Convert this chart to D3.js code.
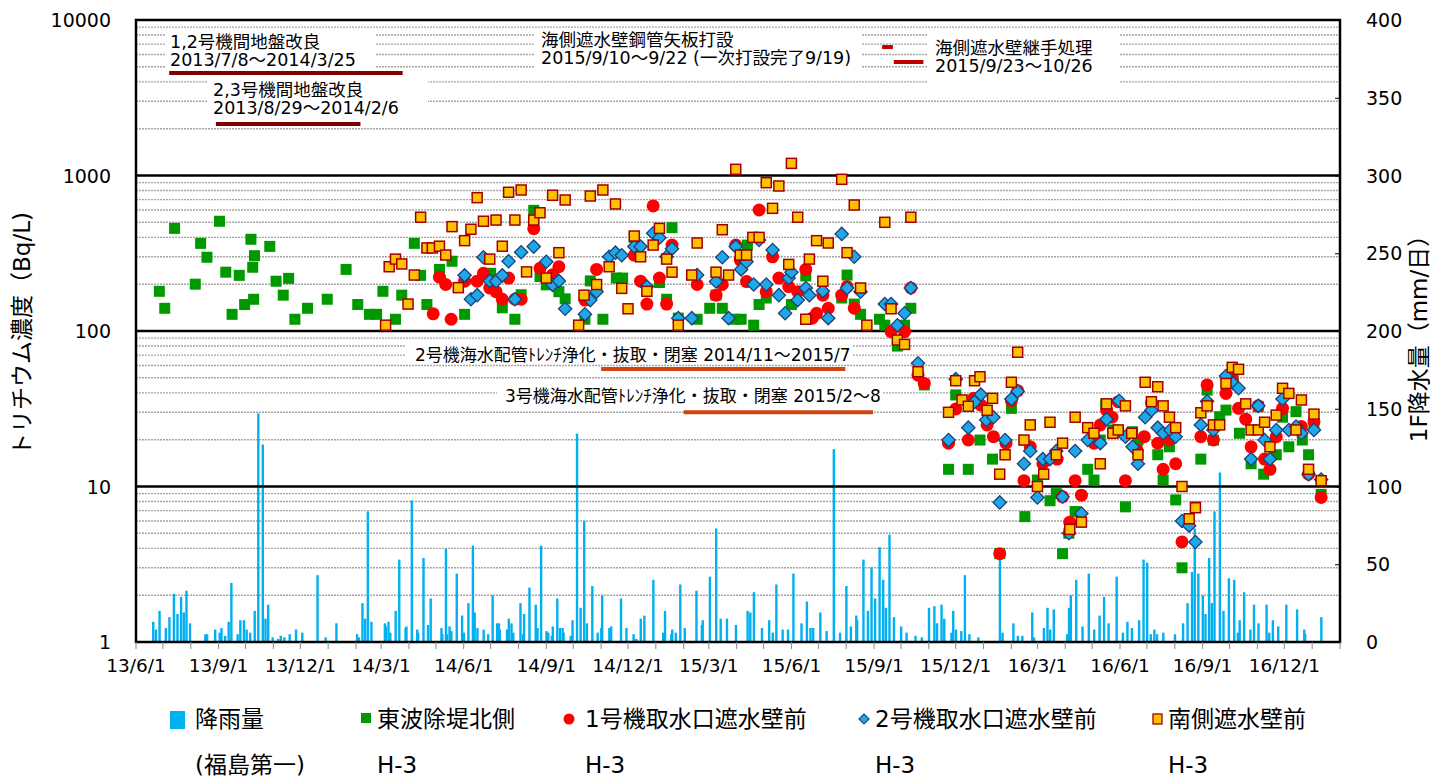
<!DOCTYPE html>
<html>
<head>
<meta charset="utf-8" />
<style>
body {
	margin: 0;
	background: #fff;
}
svg {
	display: block;
}
.tick-label {
	font-family: Verdana, "DejaVu Sans", sans-serif;
	font-size: 19px;
	fill: #000;
}
.jp {
	font-family: Verdana, "DejaVu Sans", "Noto Sans CJK JP", sans-serif;
	fill: #000;
}
</style>
</head>
<body>
<script src="https://cdn.jsdelivr.net/npm/d3@7"></script>
<script>
// ---- data ----
var xDomain = ["2013-06-01", "2017-02-01"];
var xTickLabels = ["13/6/1", "13/9/1", "13/12/1", "14/3/1", "14/6/1", "14/9/1", "14/12/1",
    "15/3/1", "15/6/1", "15/9/1", "15/12/1", "16/3/1", "16/6/1", "16/9/1", "16/12/1"];
var leftTicks = [1, 10, 100, 1000, 10000];
var rightTicks = [0, 50, 100, 150, 200, 250, 300, 350, 400];

// 1F daily rainfall (mm/day)
var rainData = [["2013-06-20",13],["2013-06-23",8],["2013-06-27",20],["2013-07-04",9],["2013-07-08",16],
  ["2013-07-13",31],["2013-07-17",18],["2013-07-21",29],["2013-07-24",19],["2013-07-27",33],["2013-07-31",12],
  ["2013-08-17",5],["2013-08-19",5],["2013-08-28",8],["2013-09-02",6],["2013-09-04",9],["2013-09-08",4],
  ["2013-09-12",13],["2013-09-15",38],["2013-09-22",5],["2013-09-25",14],["2013-09-29",14],["2013-10-02",8],
  ["2013-10-06",6],["2013-10-11",20],["2013-10-15",147],["2013-10-20",127],["2013-10-23",15],["2013-10-26",24],
  ["2013-10-31",3],["2013-11-06",2],["2013-11-09",4],["2013-11-13",3],["2013-11-19",5],["2013-11-26",8],
  ["2013-12-03",6],["2013-12-20",43],["2013-12-29",3],["2014-01-10",12],["2014-02-02",5],["2014-02-04",3],
  ["2014-02-08",25],["2014-02-11",15],["2014-02-14",84],["2014-02-18",13],["2014-03-05",12],["2014-03-06",10],
  ["2014-03-09",13],["2014-03-11",6],["2014-03-17",20],["2014-03-21",53],["2014-03-28",9],["2014-03-29",10],
  ["2014-04-04",91],["2014-04-10",8],["2014-04-11",6],["2014-04-17",54],["2014-04-22",11],["2014-04-25",28],
  ["2014-05-07",9],["2014-05-08",5],["2014-05-12",60],["2014-05-13",5],["2014-05-16",10],["2014-05-18",7],
  ["2014-05-24",44],["2014-05-30",17],["2014-06-01",6],["2014-06-06",25],["2014-06-11",62],["2014-06-13",19],
  ["2014-06-16",9],["2014-06-23",8],["2014-06-28",5],["2014-07-03",30],["2014-07-08",12],["2014-07-10",12],
  ["2014-07-11",8],["2014-07-19",8],["2014-07-21",15],["2014-07-24",12],["2014-07-26",6],["2014-08-03",25],
  ["2014-08-06",5],["2014-08-07",18],["2014-08-13",35],["2014-08-20",24],["2014-08-22",9],["2014-08-26",62],
  ["2014-09-01",7],["2014-09-03",6],["2014-09-07",4],["2014-09-08",10],["2014-09-13",28],["2014-09-16",9],
  ["2014-09-19",9],["2014-09-20",6],["2014-09-28",4],["2014-09-30",14],["2014-10-05",134],["2014-10-09",22],
  ["2014-10-13",78],["2014-10-16",12],["2014-10-22",36],["2014-10-28",6],["2014-11-01",9],["2014-11-02",30],
  ["2014-11-10",9],["2014-11-12",10],["2014-11-23",28],["2014-11-29",9],["2014-12-07",5],["2014-12-10",2],
  ["2014-12-15",15],["2014-12-19",17],["2014-12-29",40],["2015-01-09",6],["2015-01-11",20],["2015-01-18",5],
  ["2015-01-19",8],["2015-01-23",6],["2015-01-28",37],["2015-02-02",9],["2015-02-15",33],["2015-02-21",11],
  ["2015-02-22",14],["2015-03-02",42],["2015-03-09",73],["2015-03-14",15],["2015-03-21",15],["2015-03-31",11],
  ["2015-04-13",20],["2015-04-16",19],["2015-04-20",32],["2015-04-29",9],["2015-05-07",14],["2015-05-11",6],
  ["2015-05-15",37],["2015-05-22",8],["2015-05-28",8],["2015-06-03",44],["2015-06-12",12],["2015-06-18",26],
  ["2015-06-22",9],["2015-06-25",9],["2015-07-03",19],["2015-07-10",7],["2015-07-18",124],["2015-07-25",6],
  ["2015-08-01",36],["2015-08-06",10],["2015-08-12",17],["2015-08-13",14],["2015-08-20",53],["2015-08-25",20],
  ["2015-08-29",48],["2015-09-02",28],["2015-09-07",61],["2015-09-11",40],["2015-09-14",22],["2015-09-18",69],
  ["2015-09-23",16],["2015-10-01",10],["2015-10-07",6],["2015-10-17",4],["2015-10-24",3],["2015-11-01",22],
  ["2015-11-07",23],["2015-11-10",12],["2015-11-15",24],["2015-11-18",15],["2015-11-26",6],["2015-11-28",20],
  ["2015-12-01",8],["2015-12-07",7],["2015-12-11",43],["2015-12-16",5],["2015-12-26",3],["2016-01-19",57],
  ["2016-01-22",6],["2016-02-03",12],["2016-02-08",4],["2016-02-13",4],["2016-02-24",19],["2016-02-26",3],
  ["2016-03-08",9],["2016-03-12",22],["2016-03-15",8],["2016-03-19",21],["2016-04-03",5],["2016-04-05",22],
  ["2016-04-07",30],["2016-04-13",40],["2016-04-20",10],["2016-04-27",44],["2016-05-03",8],["2016-05-09",17],
  ["2016-05-14",29],["2016-05-19",12],["2016-05-28",42],["2016-06-04",6],["2016-06-09",13],["2016-06-14",9],
  ["2016-06-22",14],["2016-06-27",53],["2016-07-01",51],["2016-07-05",5],["2016-07-09",8],["2016-07-12",5],
  ["2016-07-19",6],["2016-08-01",5],["2016-08-10",12],["2016-08-15",25],["2016-08-20",45],["2016-08-23",73],
  ["2016-08-27",44],["2016-09-01",30],["2016-09-04",18],["2016-09-08",54],["2016-09-11",25],["2016-09-14",84],
  ["2016-09-20",109],["2016-09-24",20],["2016-09-30",41],["2016-10-06",40],["2016-10-10",6],["2016-10-12",14],
  ["2016-10-17",32],["2016-10-24",8],["2016-10-28",24],["2016-11-02",12],["2016-11-11",24],["2016-11-14",6],
  ["2016-11-18",14],["2016-11-24",10],["2016-12-03",24],["2016-12-15",21],["2016-12-23",8],["2016-12-24",5],
  ["2017-01-11",16]];

// 東波除堤北側 H-3 (Bq/L)
var eastData = [["2013-06-27",180],["2013-07-03",140],["2013-07-14",457],["2013-08-06",200],["2013-08-12",366],
  ["2013-08-19",298],["2013-09-02",508],["2013-09-09",239],["2013-09-16",128],["2013-09-24",228],["2013-09-30",148],
  ["2013-10-07",389],["2013-10-09",257],["2013-10-10",160],["2013-10-11",305],["2013-10-28",350],["2013-11-04",209],
  ["2013-11-12",170],["2013-11-18",218],["2013-11-25",119],["2013-12-09",140],["2013-12-31",160],["2014-01-21",249],
  ["2014-02-03",148],["2014-02-16",128],["2014-02-24",128],["2014-03-03",180],["2014-03-17",119],["2014-03-24",170],
  ["2014-04-07",366],["2014-04-14",228],["2014-04-21",148],["2014-05-05",249],["2014-05-19",281],["2014-06-02",128],
  ["2014-07-01",235],["2014-07-14",141],["2014-07-28",119],["2014-08-04",171],["2014-08-18",597],["2014-08-25",224],
  ["2014-09-01",198],["2014-09-15",179],["2014-09-22",161],["2014-10-14",119],["2014-10-20",210],["2014-11-03",119],
  ["2014-11-18",219],["2014-11-25",219],["2014-12-08",400],["2015-01-05",205],["2015-01-13",160],["2015-01-19",462],
  ["2015-01-26",121],["2015-02-16",119],["2015-03-02",140],["2015-03-09",170],["2015-03-16",140],["2015-03-30",119],
  ["2015-04-06",119],["2015-04-13",357],["2015-04-20",109],["2015-04-26",148],["2015-05-04",163],["2015-06-01",148],
  ["2015-06-17",226],["2015-07-27",163],["2015-08-02",229],["2015-08-10",149],["2015-08-17",128],["2015-09-07",119],
  ["2015-09-13",109],["2015-09-27",80],["2015-10-05",109],["2015-10-12",140],["2015-10-27",45],["2015-11-23",12.9],
  ["2015-12-01",38.8],["2015-12-15",12.9],["2015-12-28",19.9],["2016-01-11",15],["2016-01-19",3.7],["2016-02-01",31.8],
  ["2016-02-16",6.4],["2016-03-01",11],["2016-03-15",8.1],["2016-03-22",9],["2016-03-29",3.7],["2016-04-05",5],
  ["2016-04-12",6.9],["2016-04-26",12.9],["2016-05-03",11],["2016-05-10",19.9],["2016-05-16",34],["2016-05-24",23.1],
  ["2016-06-07",7.4],["2016-06-15",22.5],["2016-06-21",19.9],["2016-07-13",16],["2016-07-19",11],["2016-07-26",18],
  ["2016-08-02",8.2],["2016-08-09",3],["2016-08-24",7.4],["2016-08-30",15],["2016-09-06",41.7],["2016-09-13",19.9],
  ["2016-09-20",28.1],["2016-09-27",31],["2016-10-05",49.6],["2016-10-12",22],["2016-10-25",14],["2016-11-02",32.6],
  ["2016-11-08",12],["2016-11-22",16],["2016-11-29",27.9],["2016-12-06",18],["2016-12-14",30.3],["2016-12-21",19.9],
  ["2016-12-28",16],["2017-01-03",24.9],["2017-01-11",8.9]];

// 1号機取水口遮水壁前 H-3 (Bq/L)
var unit1Data = [["2014-04-28",129],["2014-05-05",222],["2014-05-12",199],["2014-05-18",119],["2014-06-02",209],
  ["2014-06-16",209],["2014-06-23",235],["2014-06-30",189],["2014-07-07",179],["2014-07-14",160],["2014-07-21",219],
  ["2014-07-28",160],["2014-08-04",160],["2014-08-18",455],["2014-08-25",253],["2014-09-08",230],["2014-09-15",259],
  ["2014-10-14",158],["2014-10-27",249],["2014-12-08",307],["2014-12-15",209],["2014-12-22",149],["2014-12-29",637],
  ["2015-01-05",219],["2015-01-13",149],["2015-01-19",357],["2015-02-16",199],["2015-03-09",170],["2015-03-16",199],
  ["2015-03-31",357],["2015-04-05",286],["2015-04-12",208],["2015-04-26",600],["2015-05-04",179],["2015-05-11",300],
  ["2015-05-18",219],["2015-05-29",193],["2015-06-08",179],["2015-06-17",249],["2015-06-24",121],["2015-06-29",130],
  ["2015-07-06",170],["2015-07-12",140],["2015-07-27",170],["2015-08-02",193],["2015-08-10",140],["2015-09-20",99],
  ["2015-10-05",99],["2015-10-12",189],["2015-10-20",52],["2015-10-27",46],["2015-11-23",19],["2015-12-01",31.5],
  ["2015-12-15",19.9],["2015-12-21",36.9],["2015-12-29",33.4],["2016-01-05",24.9],["2016-01-12",20.9],["2016-01-19",3.7],
  ["2016-01-26",19],["2016-02-01",35.6],["2016-02-08",41.3],["2016-02-15",10.9],["2016-02-22",18],["2016-03-07",14],
  ["2016-03-23",15],["2016-03-29",8.6],["2016-04-06",5.9],["2016-04-12",10.9],["2016-04-19",8.8],["2016-05-03",19],
  ["2016-05-10",24.9],["2016-05-17",31],["2016-05-23",27.9],["2016-05-30",35.1],["2016-06-07",10.9],["2016-06-20",17.2],
  ["2016-06-28",20.9],["2016-07-06",34.6],["2016-07-13",19],["2016-07-19",12.9],["2016-07-26",19.9],["2016-08-02",14],
  ["2016-08-09",4.4],["2016-08-30",20.9],["2016-09-06",45],["2016-09-13",19.9],["2016-09-27",39.7],["2016-10-04",48.4],
  ["2016-10-11",31.8],["2016-10-19",27.1],["2016-10-25",18],["2016-11-02",33],["2016-11-09",15],["2016-11-15",12.9],
  ["2016-11-22",20.9],["2016-11-29",31.8],["2016-12-20",24.3],["2016-12-28",12],["2017-01-03",26.1],["2017-01-11",8.5]];

// 2号機取水口遮水壁前 H-3 (Bq/L)
var unit2Data = [["2014-06-02",228],["2014-06-09",160],["2014-06-16",170],["2014-06-23",298],["2014-06-30",210],
  ["2014-07-07",209],["2014-07-14",228],["2014-07-21",281],["2014-07-28",160],["2014-08-04",321],["2014-08-18",349],
  ["2014-09-01",279],["2014-09-08",198],["2014-09-15",210],["2014-09-22",139],["2014-10-14",128],["2014-10-20",158],
  ["2014-10-27",179],["2014-11-10",300],["2014-11-17",319],["2014-11-24",307],["2014-12-08",349],["2014-12-15",349],
  ["2014-12-22",193],["2014-12-29",425],["2015-01-05",398],["2015-01-13",300],["2015-01-19",338],["2015-01-26",121],
  ["2015-02-10",121],["2015-02-16",229],["2015-03-09",208],["2015-03-16",298],["2015-03-23",121],["2015-03-31",349],
  ["2015-04-06",249],["2015-04-12",279],["2015-04-20",199],["2015-04-26",385],["2015-05-04",199],["2015-05-11",332],
  ["2015-05-18",170],["2015-05-25",130],["2015-05-29",219],["2015-06-01",239],["2015-06-08",158],["2015-06-17",189],
  ["2015-06-21",170],["2015-07-06",181],["2015-07-12",121],["2015-07-27",421],["2015-08-02",189],["2015-08-10",300],
  ["2015-08-17",179],["2015-09-13",149],["2015-09-20",149],["2015-09-27",109],["2015-10-05",130],["2015-10-12",189],
  ["2015-10-20",62],["2015-11-23",19.9],["2015-12-01",49],["2015-12-15",23.9],["2015-12-22",35],["2015-12-29",39],
  ["2016-01-04",26.8],["2016-01-12",27.9],["2016-01-19",7.9],["2016-01-25",19.9],["2016-02-01",36.5],["2016-02-08",41],
  ["2016-02-15",14],["2016-02-22",16.9],["2016-03-01",8.5],["2016-03-07",15],["2016-03-15",15],["2016-03-22",16.9],
  ["2016-03-29",8.6],["2016-04-05",5],["2016-04-12",16.9],["2016-04-19",6.7],["2016-04-26",19.9],["2016-05-10",19],
  ["2016-05-17",27.1],["2016-05-31",35.6],["2016-06-07",20.9],["2016-06-15",18],["2016-06-21",14],["2016-06-29",27.9],
  ["2016-07-06",30.9],["2016-07-13",23.9],["2016-07-19",22],["2016-07-27",23.1],["2016-08-02",20.9],["2016-08-09",6],
  ["2016-08-17",5.6],["2016-08-24",4.4],["2016-08-30",24.9],["2016-09-06",35.3],["2016-09-13",23.1],["2016-09-27",51.4],
  ["2016-10-05",46.1],["2016-10-11",42.8],["2016-10-25",15],["2016-11-02",33],["2016-11-09",19.9],["2016-11-15",15],
  ["2016-11-22",23.1],["2016-11-29",36.5],["2016-12-06",23.1],["2016-12-14",24.3],["2016-12-20",22],["2016-12-28",12],
  ["2017-01-03",23.1],["2017-01-11",11.1]];

// 南側遮水壁前 H-3 (Bq/L)
var southData = [["2014-03-06",109],["2014-03-10",259],["2014-03-17",290],["2014-03-24",270],["2014-03-31",149],
  ["2014-04-07",229],["2014-04-14",539],["2014-04-21",342],["2014-04-27",342],["2014-05-05",351],["2014-05-12",308],
  ["2014-05-19",469],["2014-05-26",190],["2014-06-02",381],["2014-06-09",451],["2014-06-16",720],["2014-06-23",508],
  ["2014-06-30",290],["2014-07-07",517],["2014-07-14",351],["2014-07-21",780],["2014-07-28",517],["2014-08-04",807],
  ["2014-08-10",240],["2014-08-18",517],["2014-08-25",576],["2014-09-01",219],["2014-09-08",746],["2014-09-15",319],
  ["2014-09-22",696],["2014-10-07",109],["2014-10-13",170],["2014-10-20",738],["2014-10-27",199],["2014-11-03",807],
  ["2014-11-10",259],["2014-11-17",656],["2014-11-24",188],["2014-12-01",139],["2014-12-08",408],["2014-12-15",300],
  ["2014-12-22",180],["2014-12-29",357],["2015-01-05",457],["2015-01-13",290],["2015-01-19",239],["2015-01-26",109],
  ["2015-02-10",229],["2015-02-16",368],["2015-03-09",239],["2015-03-16",448],["2015-03-23",229],["2015-03-31",1096],
  ["2015-04-05",308],["2015-04-12",308],["2015-04-19",400],["2015-04-26",400],["2015-05-04",899],["2015-05-11",615],
  ["2015-05-18",856],["2015-05-29",268],["2015-06-01",1197],["2015-06-08",539],["2015-06-17",119],["2015-06-21",290],
  ["2015-06-29",381],["2015-07-06",209],["2015-07-12",368],["2015-07-27",945],["2015-08-02",319],["2015-08-10",646],
  ["2015-08-17",189],["2015-08-24",109],["2015-09-13",500],["2015-09-20",139],["2015-09-27",87.5],["2015-10-05",82],
  ["2015-10-12",539],["2015-10-20",54.7],["2015-11-23",30],["2015-12-01",47.9],["2015-12-08",36],["2015-12-15",32.8],
  ["2015-12-22",47.9],["2015-12-28",50.8],["2016-01-05",30.9],["2016-01-11",36.9],["2016-01-19",12],["2016-01-25",16],
  ["2016-02-01",46.8],["2016-02-08",73],["2016-02-15",19.9],["2016-02-22",24.9],["2016-03-01",10],["2016-03-08",12],
  ["2016-03-15",25.9],["2016-03-22",16],["2016-03-29",19],["2016-04-06",5.3],["2016-04-12",27.9],["2016-04-19",5.9],
  ["2016-04-26",23.9],["2016-05-03",22],["2016-05-10",14],["2016-05-17",34],["2016-05-24",22],["2016-05-30",23.1],
  ["2016-06-07",33],["2016-06-14",22],["2016-06-21",16],["2016-06-29",46.8],["2016-07-06",35.1],["2016-07-13",43.8],
  ["2016-07-19",33],["2016-07-26",27.9],["2016-08-02",23.9],["2016-08-09",10],["2016-08-17",6.2],["2016-08-24",7.3],
  ["2016-08-30",29.8],["2016-09-06",33],["2016-09-13",24.9],["2016-09-20",24.9],["2016-09-27",46],["2016-10-04",58.4],
  ["2016-10-11",56.7],["2016-10-19",34],["2016-10-25",23.1],["2016-11-02",23.1],["2016-11-09",25.9],["2016-11-15",18],
  ["2016-11-22",28.8],["2016-11-29",42.8],["2016-12-06",39.7],["2016-12-14",23.1],["2016-12-20",36],["2016-12-28",12.9],
  ["2017-01-03",29.2],["2017-01-11",10.9]];

// work periods drawn as bars, with their labels
var workLabels = [["1,2号機間地盤改良", "2013/7/8～2014/3/25"],
    ["2,3号機間地盤改良", "2013/8/29～2014/2/6"],
    ["海側遮水壁鋼管矢板打設", "2015/9/10～9/22 (一次打設完了9/19)"],
    ["海側遮水壁継手処理", "2015/9/23～10/26"],
    ["2号機海水配管ﾄﾚﾝﾁ浄化・抜取・閉塞 2014/11～2015/7"],
    ["3号機海水配管ﾄﾚﾝﾁ浄化・抜取・閉塞 2015/2～8"]];
var workFrom = ["2013-07-08", "2013-08-29", "2015-09-10", "2015-09-23", "2014-11-01", "2015-02-01"];
var workTo = ["2014-03-25", "2014-02-06", "2015-09-22", "2015-10-26", "2015-07-31", "2015-08-31"];

var legendNames = ["降雨量", "東波除堤北側", "1号機取水口遮水壁前", "2号機取水口遮水壁前", "南側遮水壁前"];
var legendSub = ["(福島第一)", "H-3", "H-3", "H-3", "H-3"];

// ---- layout ----
var width = 1434, height = 779;
var pL = 136, pR = 1340, pT = 20, pB = 642;
var parseDate = d3.timeParse("%Y-%m-%d");
var parseTick = d3.timeParse("%y/%m/%d");

var x = d3.scaleTime()
	.domain(xDomain.map(parseDate))
	.range([pL, pR]);
var yL = d3.scaleLog()
	.domain([1, 10000])
	.range([pB, pT]);
var yR = d3.scaleLinear()
	.domain([0, 400])
	.range([pB, pT]);

var svg = d3.select("body").append("svg")
	.attr("width", width)
	.attr("height", height);

svg.append("rect")
	.attr("width", width)
	.attr("height", height)
	.attr("fill", "#fff");

// minor log gridlines
var minorVals = [];
[1, 10, 100, 1000].forEach(function(d) {
	for (var k = 2; k < 10; k++) minorVals.push(k * d);
});
svg.append("g").selectAll("line")
	.data(minorVals)
	.enter().append("line")
	.attr("x1", pL)
	.attr("x2", pR)
	.attr("y1", function(d) { return yL(d); })
	.attr("y2", function(d) { return yL(d); })
	.attr("stroke", "#a6a6a6")
	.attr("stroke-width", 1.4)
	.attr("stroke-dasharray", "2,1");

// white boxes behind the notes (break the gridlines like the original)
var noteBoxes = [[165, 30, 210, 40], [208, 78, 220, 38], [535, 30, 327, 42], [928, 32, 192, 56],
    [406, 343, 446, 21], [497, 384, 385, 21]];
svg.append("g").selectAll("rect")
	.data(noteBoxes)
	.enter().append("rect")
	.attr("x", function(d) { return d[0]; })
	.attr("y", function(d) { return d[1]; })
	.attr("width", function(d) { return d[2]; })
	.attr("height", function(d) { return d[3]; })
	.attr("fill", "#fff");

// rain bars (right axis)
svg.append("g").selectAll("rect")
	.data(rainData)
	.enter().append("rect")
	.attr("x", function(d) { return x(parseDate(d[0])) - 1; })
	.attr("y", function(d) { return yR(d[1]); })
	.attr("width", 2.4)
	.attr("height", function(d) { return pB - yR(d[1]); })
	.attr("fill", "#00b0f0");

// major gridlines
svg.append("g").selectAll("line")
	.data([10, 100, 1000])
	.enter().append("line")
	.attr("x1", pL)
	.attr("x2", pR)
	.attr("y1", function(d) { return yL(d); })
	.attr("y2", function(d) { return yL(d); })
	.attr("stroke", "#000")
	.attr("stroke-width", 2.5);

// frame
svg.append("rect")
	.attr("x", pL)
	.attr("y", pT)
	.attr("width", pR - pL)
	.attr("height", pB - pT)
	.attr("fill", "none")
	.attr("stroke", "#000")
	.attr("stroke-width", 2.5);

// work period bars
var workLevel = [4560, 2140, 6700, 5370, 57, 30];
var workColor = ["#800000", "#800000", "#c00000", "#c00000", "#d04414", "#d04414"];
svg.append("g").selectAll("line")
	.data(workFrom)
	.enter().append("line")
	.attr("x1", function(d) { return x(parseDate(d)); })
	.attr("x2", function(d, i) { return x(parseDate(workTo[i])); })
	.attr("y1", function(d, i) { return yL(workLevel[i]); })
	.attr("y2", function(d, i) { return yL(workLevel[i]); })
	.attr("stroke", function(d, i) { return workColor[i]; })
	.attr("stroke-width", 4);

// work labels
var notePos = [[170, 48], [213, 96], [541, 46], [935, 54], [415, 361], [505, 402]];
var noteSize = [17.5, 17.5, 17.5, 17.5, 17, 17];
var noteGroup = svg.append("g").attr("class", "jp");
workLabels.forEach(function(lines, i) {
	lines.forEach(function(t, j) {
		noteGroup.append("text")
			.attr("x", notePos[i][0])
			.attr("y", notePos[i][1] + j * 18)
			.style("font-size", noteSize[i] + "px")
			.text(t);
	});
});

// scatter series
var sq = 11;
svg.append("g").selectAll("rect")
	.data(eastData)
	.enter().append("rect")
	.attr("x", function(d) { return x(parseDate(d[0])) - sq / 2; })
	.attr("y", function(d) { return yL(d[1]) - sq / 2; })
	.attr("width", sq)
	.attr("height", sq)
	.attr("fill", "#009900");

svg.append("g").selectAll("circle")
	.data(unit1Data)
	.enter().append("circle")
	.attr("cx", function(d) { return x(parseDate(d[0])); })
	.attr("cy", function(d) { return yL(d[1]); })
	.attr("r", 6.5)
	.attr("fill", "#ff0000");

var diamond = d3.symbol().type(d3.symbolSquare).size(88);
svg.append("g").selectAll("path")
	.data(unit2Data)
	.enter().append("path")
	.attr("d", diamond)
	.attr("transform", function(d) {
		return "translate(" + x(parseDate(d[0])) + "," + yL(d[1]) + ") rotate(45)";
	})
	.attr("fill", "#1fa8e6")
	.attr("stroke", "#1f3f7a")
	.attr("stroke-width", 1.3);

svg.append("g").selectAll("rect")
	.data(southData)
	.enter().append("rect")
	.attr("x", function(d) { return x(parseDate(d[0])) - 5; })
	.attr("y", function(d) { return yL(d[1]) - 5; })
	.attr("width", 10)
	.attr("height", 10)
	.attr("fill", "#ffc000")
	.attr("stroke", "#a00000")
	.attr("stroke-width", 1.5);

// x axis: monthly ticks, labels every 3 months
var months = d3.timeMonth.range(x.domain()[0], d3.timeDay.offset(x.domain()[1], 1));
svg.append("g").selectAll("line")
	.data(months)
	.enter().append("line")
	.attr("x1", function(d) { return x(d); })
	.attr("x2", function(d) { return x(d); })
	.attr("y1", pB)
	.attr("y2", pB + 7)
	.attr("stroke", "#888")
	.attr("stroke-width", 1);

svg.append("g").selectAll("text")
	.data(xTickLabels)
	.enter().append("text")
	.attr("class", "tick-label")
	.style("font-size", "18.5px")
	.attr("x", function(d) { return x(parseTick(d)); })
	.attr("y", 672)
	.attr("text-anchor", "middle")
	.text(function(d) { return d; });

// left axis
var axisL = svg.append("g")
	.attr("transform", "translate(" + pL + ",0)")
	.call(d3.axisLeft(yL).tickValues(leftTicks).tickFormat(d3.format("d")).tickSize(0).tickPadding(25));
axisL.select(".domain").remove();
axisL.selectAll("text").attr("class", "tick-label").attr("dy", "0.35em");

// right axis
var axisR = svg.append("g")
	.attr("transform", "translate(" + pR + ",0)")
	.call(d3.axisRight(yR).tickValues(rightTicks).tickSize(-5).tickPadding(26));
axisR.select(".domain").remove();
axisR.selectAll("line").attr("stroke", "#000");
axisR.selectAll("text").attr("class", "tick-label").attr("dy", "0.35em");

// axis titles
svg.append("text")
	.attr("class", "jp")
	.attr("transform", "translate(30,334) rotate(-90)")
	.attr("text-anchor", "middle")
	.style("font-size", "23px")
	.text("トリチウム濃度（Bq/L)");
svg.append("text")
	.attr("class", "jp")
	.attr("transform", "translate(1427,333) rotate(-90)")
	.attr("text-anchor", "middle")
	.style("font-size", "23px")
	.text("1F降水量（mm/日）");

// legend
var legX = [195, 377, 585, 875, 1168];
var legend = svg.append("g").attr("class", "jp").style("font-size", "23px");
legendNames.forEach(function(t, i) {
	legend.append("text").attr("x", legX[i]).attr("y", 727).text(t);
	legend.append("text").attr("x", legX[i]).attr("y", 773).text(legendSub[i]);
});
legend.append("rect").attr("x", 170).attr("y", 711).attr("width", 15).attr("height", 18).attr("fill", "#00b0f0");
legend.append("rect").attr("x", 361).attr("y", 713).attr("width", 10).attr("height", 10).attr("fill", "#009900");
legend.append("circle").attr("cx", 569).attr("cy", 719).attr("r", 5.5).attr("fill", "#ff0000");
legend.append("path").attr("d", d3.symbol().type(d3.symbolSquare).size(50))
	.attr("transform", "translate(864,719) rotate(45)")
	.attr("fill", "#1fa8e6").attr("stroke", "#1f3f7a").attr("stroke-width", 1.2);
legend.append("rect").attr("x", 1153).attr("y", 714).attr("width", 9).attr("height", 10)
	.attr("fill", "#ffc000").attr("stroke", "#a00000").attr("stroke-width", 1.3);
</script>
</body>
</html>
